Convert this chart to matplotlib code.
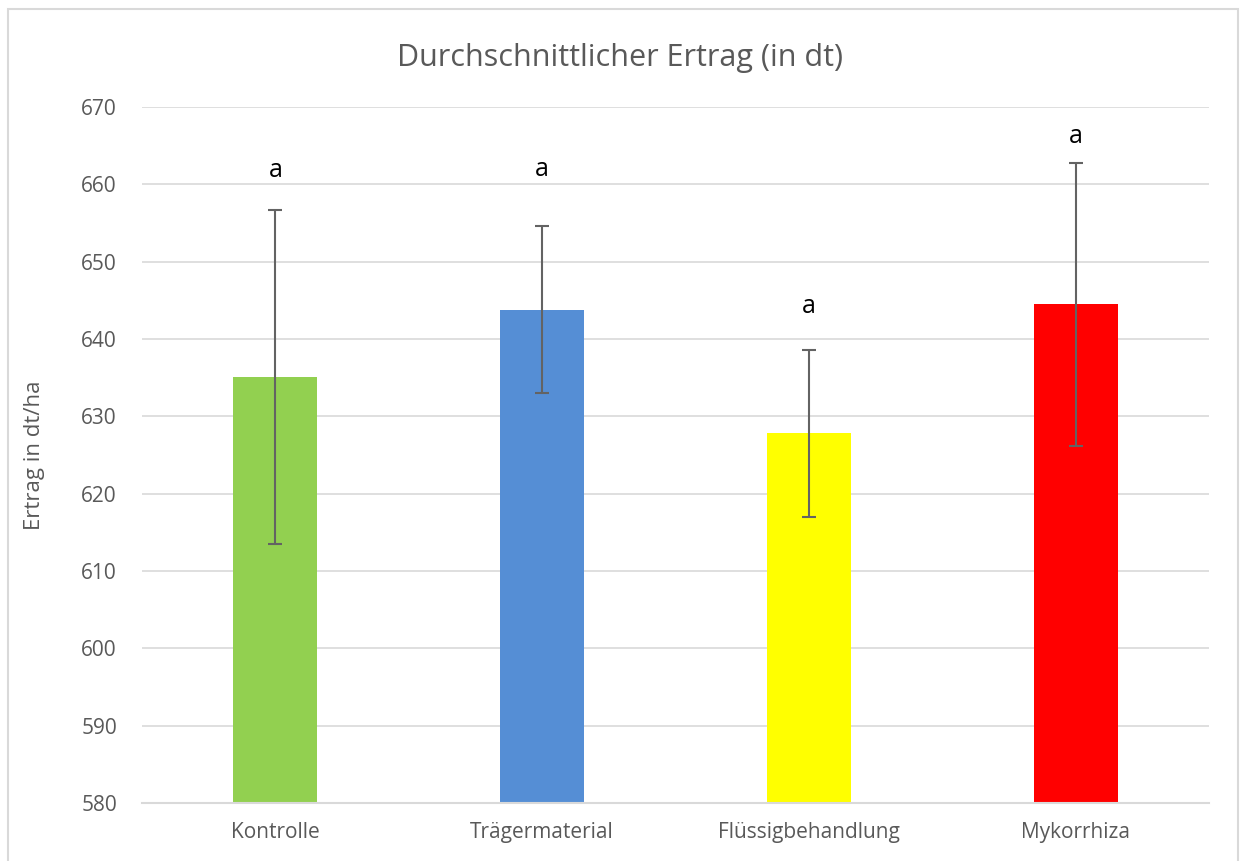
import matplotlib.pyplot as plt
from matplotlib.patches import Rectangle

categories = ['Kontrolle', 'Trägermaterial', 'Flüssigbehandlung', 'Mykorrhiza']
means = [635.1, 643.8, 627.8, 644.5]
errors = [21.6, 10.8, 10.8, 18.3]
letters = ['a', 'a', 'a', 'a']
letter_y = [661.0, 661.1, 643.4, 665.3]
colors = ['#92d050', '#558ed5', '#ffff00', '#ff0000']

plt.rcParams['font.family'] = ['Open Sans', 'DejaVu Sans']

fig = plt.figure(figsize=(12.4, 8.61), dpi=100)
ax = fig.add_axes([0.1145, 0.0674, 0.8605, 0.8083])

x = range(len(categories))
ax.bar(x, [m - 580 for m in means], bottom=580, width=0.314, color=colors, zorder=2)
ax.errorbar(x, means, yerr=errors, fmt='none', ecolor='#636363', elinewidth=1.5,
            capsize=4.7, capthick=1.5, zorder=3)
for i in x:
    ax.text(i, letter_y[i], letters[i], ha='center', va='baseline',
            fontsize=18, color='black')

ax.set_ylim(580, 670)
ax.set_xlim(-0.5, 3.5)
ax.set_yticks(range(580, 671, 10))
ax.grid(axis='y', color='#d9d9d9', linewidth=1.2, zorder=0)
ax.set_axisbelow(True)
for s in ['top', 'right', 'left']:
    ax.spines[s].set_visible(False)
ax.spines['bottom'].set_color('#d9d9d9')
ax.spines['bottom'].set_linewidth(1.5)
ax.tick_params(length=0, labelsize=15, colors='#595959')
ax.tick_params(axis='y', pad=18)
ax.tick_params(axis='x', pad=14)
ax.set_xticks(list(x))
ax.set_xticklabels(categories)
ax.set_ylabel('Ertrag in dt/ha', fontsize=16, color='#595959', labelpad=26)

fig.text(0.5, 0.923, 'Durchschnittlicher Ertrag (in dt)', ha='center', va='baseline',
         fontsize=22, color='#595959')

fig.patches.append(Rectangle((0.00645, -0.01), 0.992, 0.99955,
                             transform=fig.transFigure, fill=False,
                             edgecolor='#d9d9d9', linewidth=1.5))

fig.savefig('out.png', dpi=100)
